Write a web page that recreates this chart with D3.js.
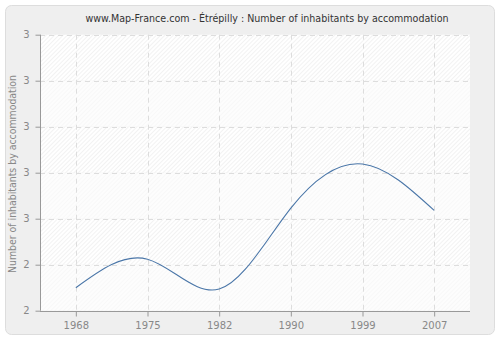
<!DOCTYPE html>
<html><head><meta charset="utf-8">
<script src="https://cdn.jsdelivr.net/npm/d3@7"></script>
<style>html,body{margin:0;padding:0;background:#fff}svg{display:block}</style>
</head><body>
<svg id="c" width="500" height="340"></svg>
<script>
const years = ["1968","1975","1982","1990","1999","2007"];
const values = [2.35, 2.412, 2.347, 2.523, 2.619, 2.518];
const yTickValues = [2.3, 2.4, 2.5, 2.6, 2.7, 2.8, 2.9];
const yTickLabels = ["2","2","3","3","3","3","3"];
const title = "www.Map-France.com - Étrépilly : Number of inhabitants by accommodation";
const yTitle = "Number of inhabitants by accommodation";

const svg = d3.select("#c");
const L = 40, R = 470, T = 34.7, B = 310.7;
const font = "DejaVu Sans, Verdana, sans-serif";

const defs = svg.append("defs");
const p1 = defs.append("pattern").attr("id","h1").attr("patternUnits","userSpaceOnUse")
  .attr("width",3).attr("height",3).attr("patternTransform","rotate(45)");
p1.append("rect").attr("width",3).attr("height",3).attr("fill","#ffffff");
p1.append("line").attr("x1",0).attr("y1",0).attr("x2",0).attr("y2",3).attr("stroke","#e6e6e6").attr("stroke-width",1);
const p2 = defs.append("pattern").attr("id","h2").attr("patternUnits","userSpaceOnUse")
  .attr("width",3).attr("height",3).attr("patternTransform","rotate(45)");
p2.append("rect").attr("width",3).attr("height",3).attr("fill","#fdfdfd");
p2.append("line").attr("x1",0).attr("y1",0).attr("x2",0).attr("y2",3).attr("stroke","#f3f3f3").attr("stroke-width",1);

svg.append("rect").attr("x",5.5).attr("y",5.5).attr("width",489).attr("height",329)
  .attr("rx",6).attr("fill","#efefef").attr("stroke","#dddddd");

const x = d3.scalePoint().domain(years).range([L, R]).padding(0.5);
const y = d3.scaleLinear().domain([2.3, 2.9]).range([B, T]);

// bands
for (let i = 0; i < yTickValues.length - 1; i++) {
  const y0 = y(yTickValues[i+1]), y1 = y(yTickValues[i]);
  svg.append("rect").attr("x",L).attr("y",y0).attr("width",R-L).attr("height",y1-y0)
    .attr("fill", (i % 2 === 0) ? "url(#h2)" : "url(#h1)");
}

// grid
const g = svg.append("g");
g.selectAll("line.h").data(yTickValues.slice(1)).join("line")
  .attr("x1",L).attr("x2",R).attr("y1",d=>Math.round(y(d))+0.5).attr("y2",d=>Math.round(y(d))+0.5)
  .attr("stroke","#dddddd").attr("stroke-dasharray","5,4");
g.selectAll("line.v").data(years).join("line")
  .attr("y1",T).attr("y2",B).attr("x1",d=>Math.round(x(d))+0.5).attr("x2",d=>Math.round(x(d))+0.5)
  .attr("stroke","#dddddd").attr("stroke-dasharray","5,4");

// axes
const xAxis = d3.axisBottom(x).tickSize(5).tickPadding(5);
const yAxis = d3.axisLeft(y).tickValues(yTickValues).tickFormat((d,i)=>yTickLabels[i]).tickSize(5).tickPadding(6);
const gx = svg.append("g").attr("transform",`translate(0,${Math.round(B)+0.5})`).call(xAxis);
const gy = svg.append("g").attr("transform",`translate(${L+0.5},0)`).call(yAxis);
[gx, gy].forEach(a => {
  a.select(".domain").attr("stroke","#999999");
  a.selectAll(".tick line").attr("stroke","#999999");
  a.selectAll(".tick text").attr("fill","#888888").attr("font-family",font).attr("font-size","10px");
});
gx.select(".domain").attr("d", `M${L},0H${R}`);
gy.select(".domain").attr("d", `M0,${T}V${B}`);

// line
const line = d3.line().x((d,i)=>x(years[i])).y(d=>y(d)).curve(d3.curveNatural);
svg.append("path").datum(values).attr("d",line).attr("fill","none")
  .attr("stroke","#4a76a8").attr("stroke-width",1.1);

svg.append("text").attr("x",267).attr("y",22).attr("text-anchor","middle")
  .attr("font-family",font).attr("font-size","10px").attr("fill","#333333")
  .attr("textLength",363).attr("lengthAdjust","spacingAndGlyphs").text(title);
svg.append("text").attr("transform",`translate(16,174) rotate(-90)`).attr("text-anchor","middle")
  .attr("font-family",font).attr("font-size","10px").attr("fill","#888888")
  .attr("textLength",198).attr("lengthAdjust","spacingAndGlyphs").text(yTitle);
</script>
</body></html>
